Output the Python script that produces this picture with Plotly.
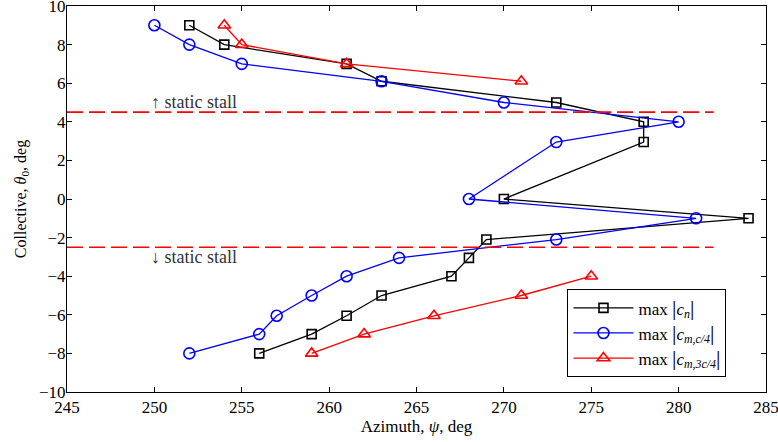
import plotly.graph_objects as go

# Peak-load azimuth versus collective pitch
cn_psi = [252, 254, 261, 263, 273, 278, 278, 270, 284, 269, 268, 267, 263, 261, 259, 256]
cn_theta = [9, 8, 7, 6.1, 5, 4, 2.95, 0, -1, -2.1, -3.05, -4, -5, -6.05, -7, -8]

cm4_psi = [250, 252, 255, 263, 270, 280, 273, 268, 281, 273, 264, 261, 259, 257, 256, 252]
cm4_theta = [9, 8, 7, 6.1, 5, 4, 2.95, 0, -1, -2.1, -3.05, -4, -5, -6.05, -7, -8]

# no 3c/4 peak is reported between the two stall limits, hence the gap
cm34_psi = [254, 255, 261, 271, None, 275, 271, 266, 262, 259]
cm34_theta = [9, 8, 7, 6.1, None, -4, -5, -6.05, -7, -8]

stall_levels = [4.5, -2.5]
stall_psi = [245, 282]
stall_labels = ["\u2191 static stall", "\u2193 static stall"]
stall_label_theta = [5.05, -3.0]

FONT = "Times New Roman, Liberation Serif, Tinos, serif"
BAR = "<span style='font-size:22px'>|</span>"


def abs_label(body):
    return "max " + BAR + body + BAR


fig = go.Figure()

fig.add_trace(go.Scatter(
    x=cn_psi, y=cn_theta, mode="lines+markers", legendgroup="cn",
    name=abs_label("<i>c<sub>n</sub></i>"),
    line=dict(color="black", width=1.3),
    marker=dict(symbol="square-open", size=9, color="black", line=dict(width=1.6)),
))
fig.add_trace(go.Scatter(
    x=cm4_psi, y=cm4_theta, mode="lines+markers", legendgroup="cm4",
    name=abs_label("<i>c<sub>m,c/4</sub></i>"),
    line=dict(color="blue", width=1.3),
    marker=dict(symbol="circle-open", size=11, color="blue", line=dict(width=1.6)),
))
fig.add_trace(go.Scatter(
    x=cm34_psi, y=cm34_theta, mode="lines+markers", connectgaps=False, legendgroup="cm34",
    name=abs_label("<i>c<sub>m,3c/4</sub></i>"),
    line=dict(color="red", width=1.3),
    marker=dict(symbol="triangle-up-open", size=11, color="red", line=dict(width=1.6)),
))

for lvl, lab, ly in zip(stall_levels, stall_labels, stall_label_theta):
    fig.add_trace(go.Scatter(
        x=stall_psi, y=[lvl, lvl], mode="lines", showlegend=False,
        line=dict(color="red", width=1.6, dash="16px,6px"), hoverinfo="skip",
    ))
    fig.add_annotation(
        x=250, y=ly, text=lab, showarrow=False, xanchor="left", yanchor="middle",
        xshift=-5, font=dict(family=FONT, size=18, color="#333333"),
    )

axis_common = dict(
    showgrid=False, zeroline=False, showline=True, linecolor="black", linewidth=1,
    mirror="ticks", ticks="inside", ticklen=5, tickcolor="black",
    ticklabeloverflow="allow", automargin=False,
    tickfont=dict(family=FONT, size=17, color="black"),
)

fig.update_layout(
    width=778, height=442,
    margin=dict(l=67, r=12, t=6, b=50, autoexpand=False),
    plot_bgcolor="white", paper_bgcolor="white",
    font=dict(family=FONT, color="black"),
    xaxis=dict(
        range=[245, 285], tickmode="linear", tick0=245, dtick=5,
        title=dict(text="Azimuth, <i>\u03c8</i>, deg", font=dict(family=FONT, size=17), standoff=2),
        **axis_common,
    ),
    yaxis=dict(
        range=[-10, 10], tickmode="linear", tick0=-10, dtick=2,
        ticklabelstandoff=-3,
        title=dict(text="Collective, <i>\u03b8</i><sub>0</sub>, deg", font=dict(family=FONT, size=16), standoff=8),
        **axis_common,
    ),
    legend=dict(
        x=0.716, y=0.266, xanchor="left", yanchor="top",
        bgcolor="white", bordercolor="black", borderwidth=1,
        font=dict(family=FONT, size=17, color="black"),
        itemwidth=60, tracegroupgap=0,
    ),
    showlegend=True,
)

fig.write_html("out.html")
